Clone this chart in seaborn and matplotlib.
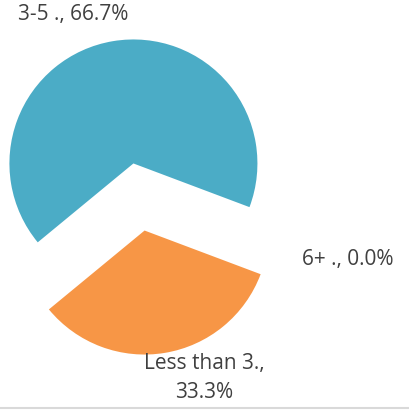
import matplotlib
matplotlib.use("Agg")
import matplotlib.pyplot as plt
import seaborn as sns

categories = ["Less than 3.", "3-5 .", "6+ ."]
values = [33.3, 66.7, 0.0]
colors = ["#F79646", "#4BACC6", "#8064A2"]

sns.set_theme(style="white")
plt.rcParams["font.family"] = ["Open Sans", "DejaVu Sans"]

W, H = 409, 411
fig = plt.figure(figsize=(W / 100, H / 100), dpi=100)
ax = fig.add_axes([0, 0, 1, 1])
ax.set_xlim(0, W)
ax.set_ylim(0, H)
ax.axis("off")

r = 124
ax.pie(values, colors=colors, startangle=219.5, counterclock=True,
       radius=r, center=(139, H - 197), explode=[34, 34, 0.0],
       wedgeprops=dict(linewidth=0))
ax.set_xlim(0, W)
ax.set_ylim(0, H)
ax.set_aspect("equal")

lab = {c: f"{c}, {v:.1f}%" for c, v in zip(categories, values)}
tc = "#404040"
fs = 15
ax.text(18, H - 14, lab["3-5 ."], ha="left", va="center", fontsize=fs, color=tc)
ax.text(302, H - 260, lab["6+ ."], ha="left", va="center", fontsize=fs, color=tc)
ax.text(204, H - 378, lab["Less than 3."].replace(", ", ",\n"), ha="center",
        va="center", fontsize=fs, color=tc, linespacing=1.45)

ax.axhline(H - 408, color="#D9D9D9", linewidth=1.5)

fig.savefig("out.png", dpi=100)
